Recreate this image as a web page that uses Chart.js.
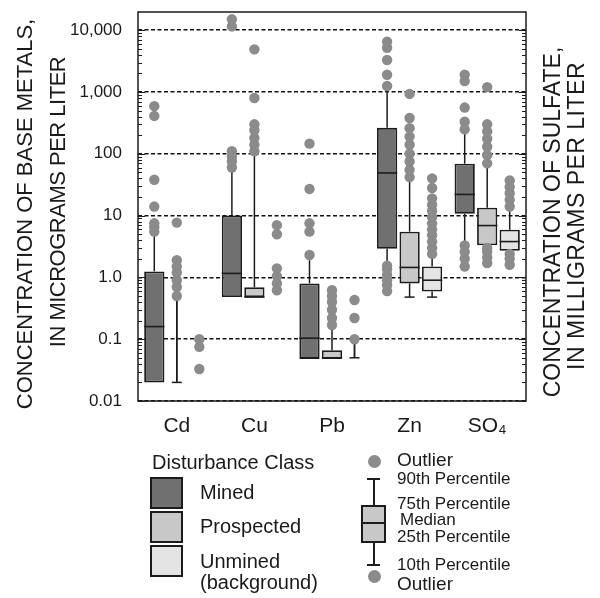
<!DOCTYPE html>
<html>
<head>
<meta charset="utf-8">
<script src="https://cdn.jsdelivr.net/npm/chart.js@4.4.1/dist/chart.umd.min.js"></script>
<style>
html, body { margin: 0; padding: 0; background: #fff; }
#wrap { position: relative; width: 600px; height: 598px; overflow: hidden; font-family: "Liberation Sans", Arial, sans-serif; color: #1a1a1a; }
#chart { position: absolute; left: 0; top: 0; }
.vt { position: absolute; white-space: nowrap; line-height: 1; transform: translate(-50%, -50%) rotate(-90deg); }
.lg { position: absolute; white-space: nowrap; line-height: 1; }
.sw { position: absolute; box-sizing: border-box; border: 2px solid #1c1c1c; }
.dot { position: absolute; border-radius: 50%; background: #8b8b8b; }
.ln { position: absolute; background: #1c1c1c; }
</style>
</head>
<body>
<div id="wrap">
  <canvas id="chart" width="600" height="598"></canvas>

  <div class="vt" style="left:25px;top:214px;font-size:22px;">CONCENTRATION OF BASE METALS,</div>
  <div class="vt" style="left:58px;top:202px;font-size:22px;letter-spacing:-0.5px;">IN MICROGRAMS PER LITER</div>
  <div class="vt" style="left:552px;top:222px;font-size:23px;">CONCENTRATION OF SULFATE,</div>
  <div class="vt" style="left:576px;top:216px;font-size:23px;letter-spacing:0.5px;">IN MILLIGRAMS PER LITER</div>

  <!-- disturbance class legend -->
  <div class="lg" style="left:152px;top:452px;font-size:20px;">Disturbance Class</div>
  <div class="sw" style="left:150px;top:477px;width:33px;height:32px;background:#707070;"></div>
  <div class="sw" style="left:150px;top:511px;width:33px;height:32px;background:#c8c8c8;"></div>
  <div class="sw" style="left:150px;top:545px;width:33px;height:32px;background:#e4e4e4;"></div>
  <div class="lg" style="left:200px;top:482px;font-size:20px;">Mined</div>
  <div class="lg" style="left:200px;top:516px;font-size:20px;">Prospected</div>
  <div class="lg" style="left:200px;top:551px;font-size:20px;">Unmined</div>
  <div class="lg" style="left:200px;top:572px;font-size:20px;">(background)</div>

  <!-- box key -->
  <div class="dot" style="left:368px;top:455px;width:13px;height:13px;"></div>
  <div class="ln" style="left:367px;top:478px;width:13px;height:2px;"></div>
  <div class="ln" style="left:373px;top:478px;width:1.6px;height:28px;"></div>
  <div class="sw" style="left:361px;top:505px;width:25px;height:38px;background:#c8c8c8;"></div>
  <div class="ln" style="left:361px;top:522px;width:25px;height:2px;"></div>
  <div class="ln" style="left:373px;top:542px;width:1.6px;height:23px;"></div>
  <div class="ln" style="left:367px;top:564px;width:13px;height:2px;"></div>
  <div class="dot" style="left:368px;top:570px;width:13px;height:13px;"></div>
  <div class="lg" style="left:397px;top:450px;font-size:19px;">Outlier</div>
  <div class="lg" style="left:397px;top:470px;font-size:17px;">90th Percentile</div>
  <div class="lg" style="left:397px;top:495px;font-size:17px;">75th Percentile</div>
  <div class="lg" style="left:400px;top:511px;font-size:17px;">Median</div>
  <div class="lg" style="left:397px;top:528px;font-size:17px;">25th Percentile</div>
  <div class="lg" style="left:397px;top:556px;font-size:17px;">10th Percentile</div>
  <div class="lg" style="left:397px;top:574px;font-size:19px;">Outlier</div>
</div>

<script>
// ----- data -----
const categories = ['Cd', 'Cu', 'Pb', 'Zn', 'SO₄'];
const classNames = ['Mined', 'Prospected', 'Unmined'];
const yTicks = [0.01, 0.1, 1, 10, 100, 1000, 10000];
const yTickLabels = ['0.01', '0.1', '1.0', '10', '100', '1,000', '10,000'];

// 10th, 25th, 50th, 75th, 90th percentiles; null where the box collapses below the reporting limit
const minedP10 = [0.02, 0.48, 0.048, 1.75, 3.5];
const minedQ1 = [0.02, 0.48, 0.048, 2.9, 10.7];
const minedMedian = [0.16, 1.16, 0.104, 49, 22];
const minedQ3 = [1.25, 10, 0.8, 263, 69];
const minedP90 = [5, 57, 1.9, 1130, 210];
const minedOutliers = [
    [5.5, 6.5, 7.5, 14, 38, 410, 590],
    [60, 75, 90, 110, 11500, 15000],
    [2.3, 5.5, 7.5, 27, 146],
    [0.6, 0.75, 0.9, 1.1, 1.35, 1.55, 1250, 1900, 3300, 5200, 6500],
    [1.5, 2.0, 2.6, 3.3, 250, 330, 560, 1500, 1900]
];

const prospectedP10 = [0.02, 0.48, 0.048, 0.48, 3.3];
const prospectedQ1 = [null, 0.48, 0.048, 0.8, 3.3];
const prospectedMedian = [null, 0.48, 0.05, 1.45, 6.9];
const prospectedQ3 = [null, 0.69, 0.066, 5.5, 13.4];
const prospectedP90 = [0.45, 104, 0.15, 37, 64];
const prospectedOutliers = [
    [0.5, 0.7, 0.9, 1.2, 1.5, 1.9, 7.7],
    [110, 140, 180, 240, 300, 800, 4900],
    [0.17, 0.22, 0.3, 0.4, 0.5, 0.62],
    [42, 55, 75, 100, 140, 190, 260, 380, 930],
    [1.7, 2.1, 2.6, 3.0, 70, 95, 130, 175, 230, 300, 1200]
];

const unminedP10 = [null, null, 0.05, 0.48, 2.7];
const unminedQ1 = [null, null, null, 0.59, 2.7];
const unminedMedian = [null, null, null, 0.9, 3.8];
const unminedQ3 = [null, null, null, 1.5, 5.9];
const unminedP90 = [null, null, 0.1, 2.1, 12];
const unminedOutliers = [
    [0.033, 0.075, 0.1],
    [0.62, 0.8, 1.05, 1.4, 5.0, 7.0],
    [0.1, 0.22, 0.43],
    [2.4, 3.0, 3.8, 4.8, 6, 7.5, 9.5, 12, 15, 19, 28, 40],
    [1.6, 2.0, 2.4, 14, 18, 23, 29, 37]
];

const stats = [
    { p10: minedP10, q1: minedQ1, med: minedMedian, q3: minedQ3, p90: minedP90, out: minedOutliers },
    { p10: prospectedP10, q1: prospectedQ1, med: prospectedMedian, q3: prospectedQ3, p90: prospectedP90, out: prospectedOutliers },
    { p10: unminedP10, q1: unminedQ1, med: unminedMedian, q3: unminedQ3, p90: unminedP90, out: unminedOutliers }
];

const FONT = '"Liberation Sans", Arial, sans-serif';
const INK = '#1c1c1c';
const fills = ['#707070', '#c8c8c8', '#e4e4e4'];
const CAT_PCT = 0.87;

const barX = (chart, d, i) => {
    const el = chart.getDatasetMeta(d).data[i];
    if (el && Number.isFinite(el.x)) return el.x;
    const xs = chart.scales.x;
    const slot = xs.width / categories.length * CAT_PCT / 3;
    return xs.getPixelForValue(i) + (d - 1) * slot;
};

// no extra room for half-labels at the axis ends
const noEndPadding = s => {
    s.paddingTop = 0; s.paddingBottom = 0; s.paddingLeft = 0; s.paddingRight = 0;
};

const boxPlot = {
    id: 'boxPlot',
    beforeDatasetsDraw(chart) {
        const { ctx } = chart;
        const ys = chart.scales.y;
        ctx.save();
        ctx.strokeStyle = INK;
        ctx.lineWidth = 1.5;
        stats.forEach((s, d) => {
            categories.forEach((c, i) => {
                const x = barX(chart, d, i);
                const hasBox = s.q1[i] != null;
                const seg = (from, to, outward) => {
                    if (from == null || to == null || from === to) return;
                    const y1 = ys.getPixelForValue(from), y2 = ys.getPixelForValue(to);
                    ctx.beginPath(); ctx.moveTo(x, y1); ctx.lineTo(x, y2); ctx.stroke();
                    // leave the cap off where an outlier dot sits right on the end
                    const covered = s.out[i].some(v => {
                        const dy = (ys.getPixelForValue(v) - y2) * outward;
                        return dy >= -1 && dy < 9;
                    });
                    if (!covered) {
                        ctx.beginPath(); ctx.moveTo(x - 5, y2); ctx.lineTo(x + 5, y2); ctx.stroke();
                    }
                };
                if (hasBox) {
                    seg(s.q3[i], s.p90[i], -1);
                    seg(s.q1[i], s.p10[i], 1);
                } else if (s.p10[i] != null) {
                    seg(s.p90[i], s.p10[i], 1);
                    seg(s.p10[i], s.p90[i], -1);
                }
            });
        });
        ctx.restore();
    },
    afterDatasetsDraw(chart) {
        const { ctx, chartArea: a } = chart;
        const ys = chart.scales.y;
        ctx.save();
        // medians
        ctx.strokeStyle = INK;
        ctx.lineWidth = 1.6;
        stats.forEach((s, d) => {
            const meta = chart.getDatasetMeta(d);
            categories.forEach((c, i) => {
                if (s.med[i] == null) return;
                const el = meta.data[i];
                const y = ys.getPixelForValue(s.med[i]);
                ctx.beginPath(); ctx.moveTo(el.x - el.width / 2, y); ctx.lineTo(el.x + el.width / 2, y); ctx.stroke();
            });
        });
        // outliers
        ctx.beginPath();
        ctx.rect(a.left, a.top, a.right - a.left, a.bottom - a.top);
        ctx.clip();
        ctx.fillStyle = '#8b8b8b';
        stats.forEach((s, d) => {
            categories.forEach((c, i) => {
                const x = barX(chart, d, i);
                s.out[i].forEach(v => {
                    ctx.beginPath();
                    ctx.arc(x, ys.getPixelForValue(v), 5.2, 0, Math.PI * 2);
                    ctx.fill();
                });
            });
        });
        ctx.restore();

        // frame and inward log ticks on both sides
        ctx.save();
        ctx.strokeStyle = INK;
        ctx.lineWidth = 1.5;
        ctx.strokeRect(a.left, a.top, a.right - a.left, a.bottom - a.top);
        ctx.lineWidth = 1;
        for (let k = -2; k <= 4; k++) {
            for (let m = 1; m <= 9; m++) {
                const v = m * Math.pow(10, k);
                if (v > ys.max) continue;
                const y = Math.round(ys.getPixelForValue(v)) + 0.5;
                const len = m === 1 ? 7 : 4;
                ctx.beginPath();
                ctx.moveTo(a.left, y); ctx.lineTo(a.left + len, y);
                ctx.moveTo(a.right, y); ctx.lineTo(a.right - len, y);
                ctx.stroke();
            }
        }
        ctx.restore();
    }
};

new Chart(document.getElementById('chart'), {
    type: 'bar',
    data: {
        labels: categories,
        datasets: stats.map((s, d) => ({
            label: classNames[d],
            data: categories.map((c, i) => s.q1[i] == null ? null : [s.q1[i], s.q3[i]]),
            backgroundColor: fills[d],
            borderColor: INK,
            borderWidth: 1.8,
            borderSkipped: false,
            categoryPercentage: CAT_PCT,
            barPercentage: 0.9
        }))
    },
    options: {
        responsive: false,
        animation: false,
        layout: { padding: { top: 12, left: 0, right: 0, bottom: 0 } },
        plugins: { legend: { display: false }, tooltip: { enabled: false } },
        scales: {
            x: {
                grid: { display: false },
                border: { display: false },
                afterFit: s => { s.height = 197; noEndPadding(s); },
                ticks: { color: '#1a1a1a', padding: 5, font: { family: FONT, size: 21 } }
            },
            y: {
                type: 'logarithmic',
                position: 'left',
                min: 0.01,
                max: 19700,
                bounds: 'data',
                afterBuildTicks: s => { s.ticks = yTicks.map(v => ({ value: v })); },
                afterFit: s => { s.width = 138; noEndPadding(s); },
                ticks: {
                    autoSkip: false,
                    color: '#1a1a1a',
                    padding: 16,
                    font: { family: FONT, size: 17 },
                    callback: (v, i) => yTickLabels[i]
                },
                grid: { color: '#111', lineWidth: 1.6, drawTicks: false },
                border: { display: false, dash: [4, 2.5] }
            },
            y2: {
                type: 'logarithmic',
                position: 'right',
                min: 0.01,
                max: 19700,
                afterFit: s => { s.width = 74; noEndPadding(s); },
                ticks: { display: false },
                grid: { display: false },
                border: { display: false }
            }
        }
    },
    plugins: [boxPlot]
});
</script>
</body>
</html>
